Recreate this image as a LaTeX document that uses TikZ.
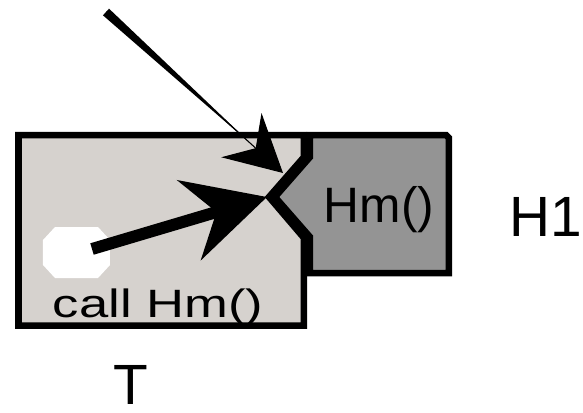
\documentclass[tikz,border=0pt]{standalone}
\usepackage{fontspec}
\setmainfont{Liberation Sans}
\usepackage{xcolor}
\usepackage{tikz}
\usetikzlibrary{arrows.meta,calc}

\definecolor{boxT}{RGB}{214,210,206}
\definecolor{boxH}{RGB}{148,148,148}

\tikzset{
    outline/.style={line width=3.7pt, draw=black},
    label/.style={anchor=base, inner sep=0pt},
}

\begin{document}
\begin{tikzpicture}[x=0.02cm, y=-0.02cm]
                \useasboundingbox (0,0) rectangle (583,413);

                % caller box
                \draw[
                    outline,
                    fill=boxT
                    ] (18.5,135) -- (304,135) -- (304,157) -- (269,197) -- (304,238)
                      -- (304,325.5) -- (18.5,325.5) -- cycle;

                % callee box
                \draw[
                    outline,
                    fill=boxH
                    ] (310,135) -- (446,135) -- (449,138) -- (449,273) -- (310,273)
                      -- (310,237) -- (275,197) -- (310,157) -- cycle;

                % call site
                \fill[
                    white
                    ] (55,227) -- (98,227) -- (110,240) -- (110,265) -- (98,278)
                      -- (55,278) -- (43,265) -- (43,240) -- cycle;

                \coordinate (site) at (92,249);
                \coordinate (notch) at (267,197);
                \coordinate (entry) at (106,12);
                \coordinate (hit) at (283,173);

                \draw[
                    line width=6.8pt,
                    -{Stealth[length=46pt,width=47pt,inset=16pt]}
                ] (site) to (notch);

                \draw[
                    line width=0.6pt,
                    -{Stealth[length=32pt,width=34pt,inset=11pt]}
                ] (entry) to (hit);

                \fill ($(entry)!0.9mm!90:(hit)$) -- ($(entry)!0.9mm!-90:(hit)$)
                      -- ($(entry)!0.84!(hit)$) -- cycle;

                \node[label, font=\fontsize{22.5}{26}\selectfont] (caller) at (158,317) {\scalebox{1.33}[1]{call Hm()}};
                \node[label, font=\fontsize{28.3}{34}\selectfont] (callee) at (379,222) {Hm()};
                \node[label, font=\fontsize{32.3}{38}\selectfont] (H1) at (546,236) {H1};
                \node[label, font=\fontsize{32.3}{38}\selectfont] (T) at (131,404) {T};

            \end{tikzpicture}
\end{document}
